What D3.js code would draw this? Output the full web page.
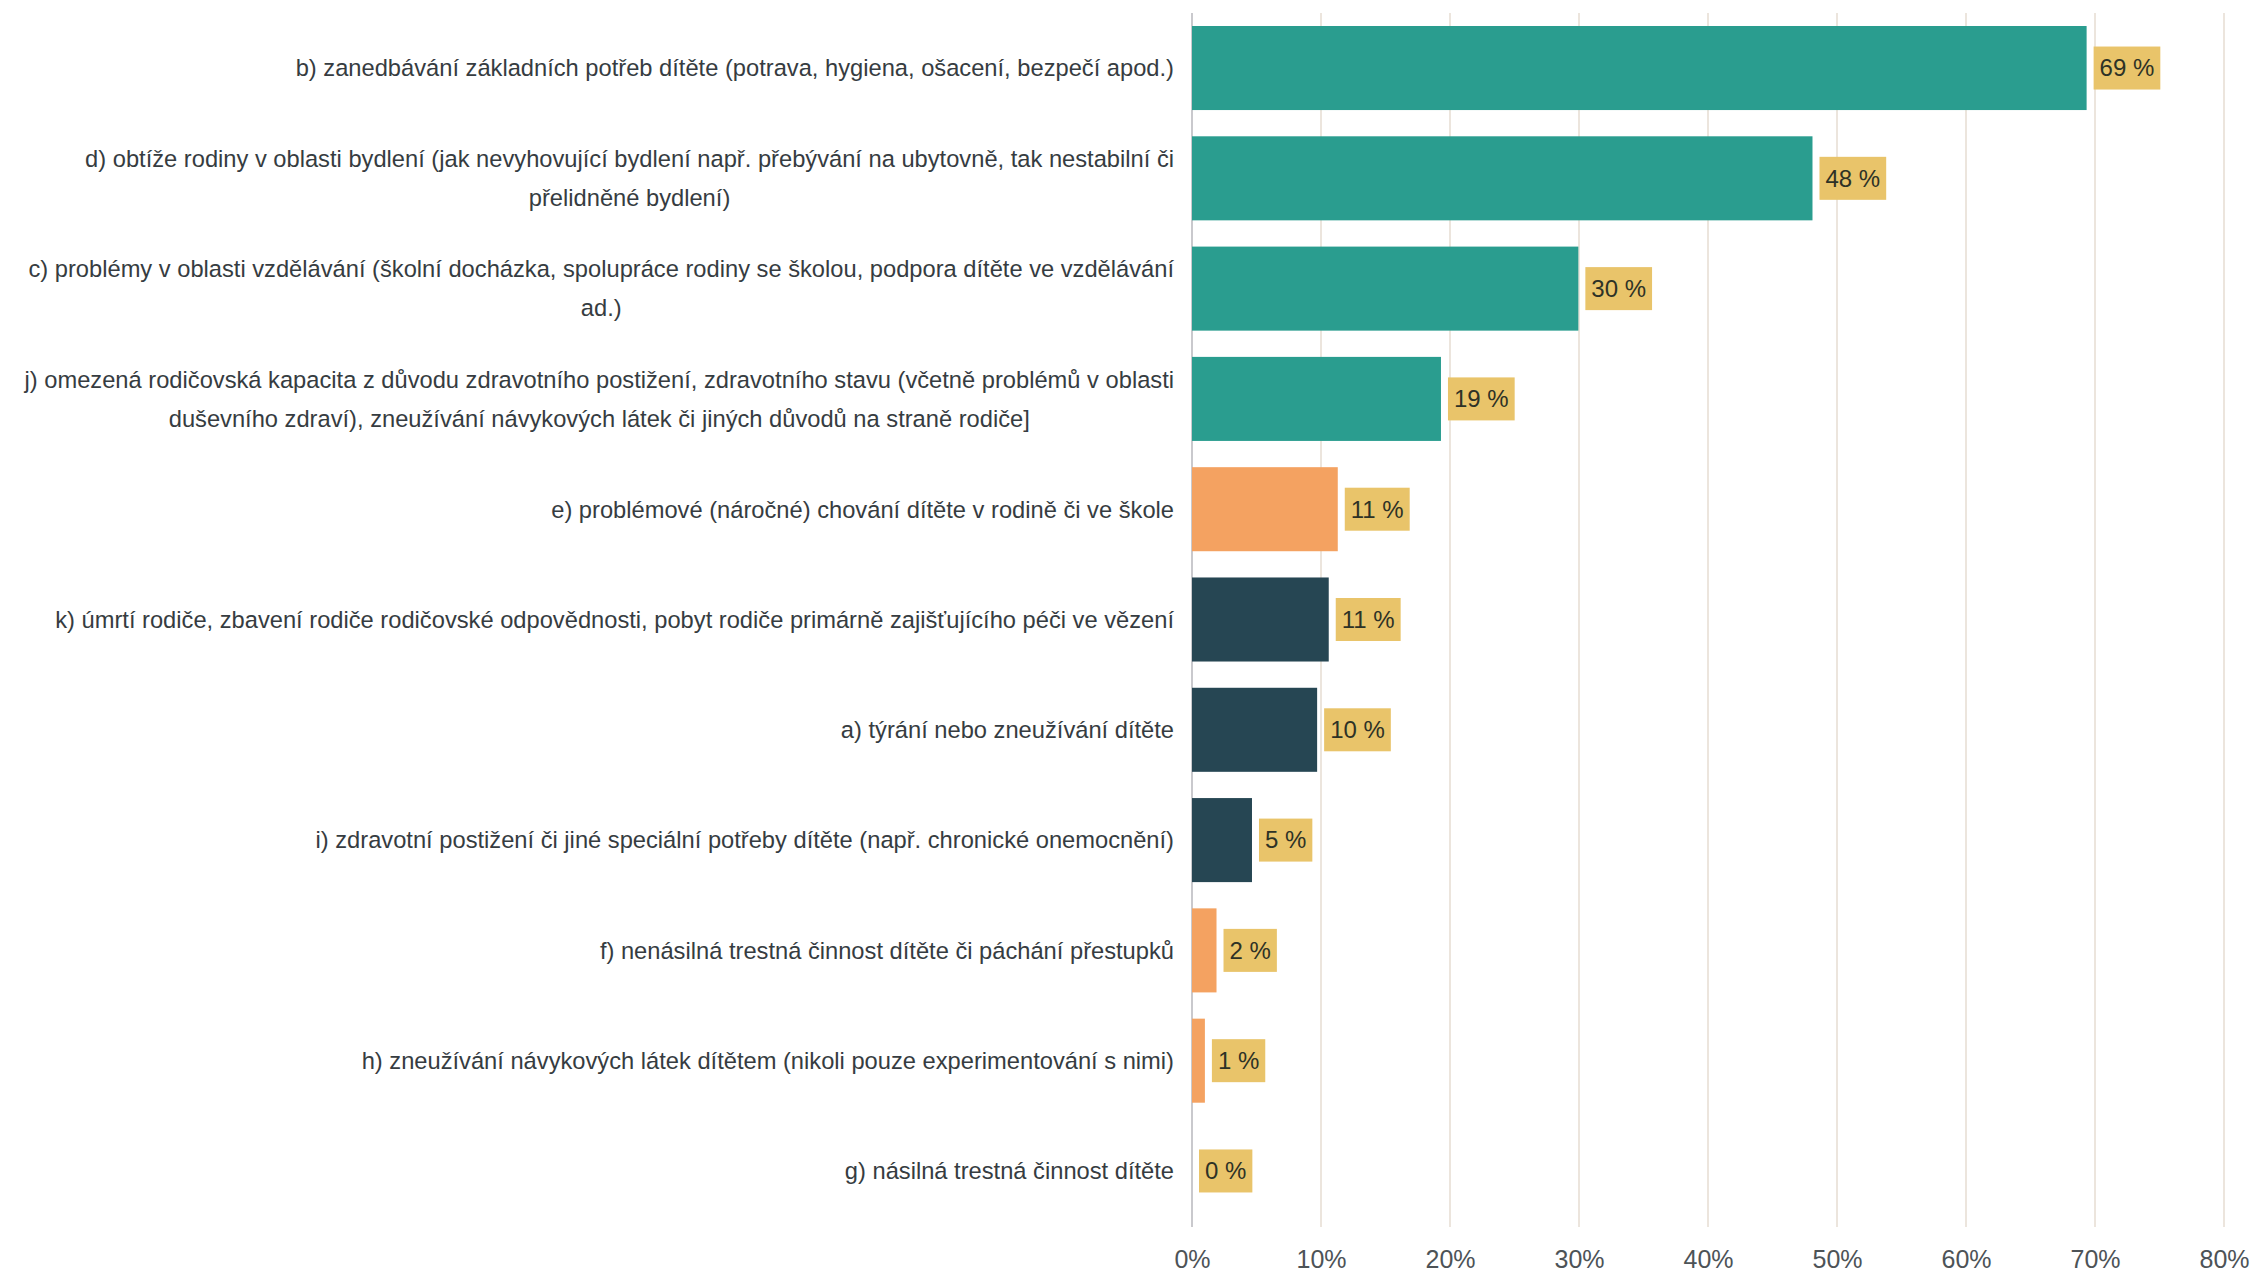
<!DOCTYPE html>
<html>
<head>
<meta charset="utf-8">
<script src="https://cdn.jsdelivr.net/npm/d3@7"></script>
<style>
  body { margin: 0; background: #fff; }
  text { font-family: "Liberation Sans", Arial, sans-serif; }
</style>
</head>
<body>
<div id="chart"></div>
<script>
// categories, top to bottom (line breaks as in the original labels)
var categories = [
    ["b) zanedbávání základních potřeb dítěte (potrava, hygiena, ošacení, bezpečí apod.)"],
    ["d) obtíže rodiny v oblasti bydlení (jak nevyhovující bydlení např. přebývání na ubytovně, tak nestabilní či", "přelidněné bydlení)"],
    ["c) problémy v oblasti vzdělávání (školní docházka, spolupráce rodiny se školou, podpora dítěte ve vzdělávání", "ad.)"],
    ["j) omezená rodičovská kapacita z důvodu zdravotního postižení, zdravotního stavu (včetně problémů v oblasti", "duševního zdraví), zneužívání návykových látek či jiných důvodů na straně rodiče]"],
    ["e) problémové (náročné) chování dítěte v rodině či ve škole"],
    ["k) úmrtí rodiče, zbavení rodiče rodičovské odpovědnosti, pobyt rodiče primárně zajišťujícího péči ve vězení"],
    ["a) týrání nebo zneužívání dítěte"],
    ["i) zdravotní postižení či jiné speciální potřeby dítěte (např. chronické onemocnění)"],
    ["f) nenásilná trestná činnost dítěte či páchání přestupků"],
    ["h) zneužívání návykových látek dítětem (nikoli pouze experimentování s nimi)"],
    ["g) násilná trestná činnost dítěte"]
];

// share of cases, in %
var values = [69.35, 48.1, 29.95, 19.3, 11.3, 10.6, 9.7, 4.65, 1.9, 1.0, 0];

// colour group of each bar
var groups = ["family", "family", "family", "family", "child", "parent", "parent", "parent", "child", "child", "child"];

var xTicks = [0, 10, 20, 30, 40, 50, 60, 70, 80];

var W = 2252, H = 1277;
var x0 = 1192, x1 = 2224, yTop = 12, yBottom = 1227;

var color = d3.scaleOrdinal()
    .domain(["family", "child", "parent"])
    .range(["#2a9d8f", "#f4a261", "#264653"]);

var svg = d3.select("#chart")
    .append("svg")
    .attr("width", W)
    .attr("height", H);

var x = d3.scaleLinear()
    .domain([0, 80])
    .range([x0, x1]);

var idx = d3.range(categories.length);
var y = d3.scaleBand()
    .domain(idx)
    .range([yTop, yBottom])
    .paddingInner(0.238)
    .paddingOuter(0.127);

// vertical grid
svg.append("g")
    .selectAll("line")
    .data(xTicks)
    .enter().append("line")
    .attr("x1", function(d) { return x(d); })
    .attr("x2", function(d) { return x(d); })
    .attr("y1", 13)
    .attr("y2", yBottom)
    .attr("stroke", function(d) { return d === 0 ? "#c9c9cd" : "#ece5dd"; })
    .attr("stroke-width", 2);

// x axis labels
var xAxis = svg.append("g")
    .attr("transform", "translate(0," + (yBottom + 20) + ")")
    .call(d3.axisBottom(x).tickValues(xTicks).tickSize(0).tickFormat(function(d) { return d + "%"; }));
xAxis.select(".domain").remove();
xAxis.selectAll("text")
    .attr("font-family", "Liberation Sans, Arial, sans-serif")
    .attr("font-size", 25)
    .attr("fill", "#4d5357");

// bars
svg.append("g")
    .selectAll("rect")
    .data(values)
    .enter().append("rect")
    .attr("x", x(0))
    .attr("y", function(d, i) { return y(i); })
    .attr("width", function(d) { return x(d) - x(0); })
    .attr("height", y.bandwidth())
    .attr("fill", function(d, i) { return color(groups[i]); });

// category labels: right aligned block, lines centred inside it
var lineH = 39;
var labelRight = 1174;
var cat = svg.append("g")
    .selectAll("g")
    .data(categories)
    .enter().append("g")
    .attr("transform", function(d, i) { return "translate(0," + (y(i) + y.bandwidth() / 2) + ")"; });

cat.each(function(lines) {
    var g = d3.select(this);
    var texts = g.selectAll("text")
        .data(lines)
        .enter().append("text")
        .attr("font-size", 23.7)
        .attr("fill", "#363c41")
        .attr("text-anchor", "middle")
        .attr("dy", "0.35em")
        .attr("y", function(d, j) { return (j - (lines.length - 1) / 2) * lineH; })
        .text(function(d) { return d; });
    var maxW = 0;
    texts.each(function() { maxW = Math.max(maxW, this.getComputedTextLength()); });
    texts.attr("x", labelRight - maxW / 2);
});

// value labels with yellow boxes
var vl = svg.append("g")
    .selectAll("g")
    .data(values)
    .enter().append("g")
    .attr("transform", function(d, i) { return "translate(" + (x(d) + 7) + "," + (y(i) + y.bandwidth() / 2) + ")"; });

vl.append("rect")
    .attr("fill", "#e9c46a")
    .attr("y", -21.5)
    .attr("height", 43);

vl.append("text")
    .attr("x", 6)
    .attr("dy", "0.35em")
    .attr("font-size", 24)
    .attr("fill", "#2e3226")
    .text(function(d) { return Math.round(d) + " %"; });

vl.each(function() {
    var g = d3.select(this);
    var w = g.select("text").node().getComputedTextLength();
    g.select("rect").attr("width", w + 12);
});
</script>
</body>
</html>
